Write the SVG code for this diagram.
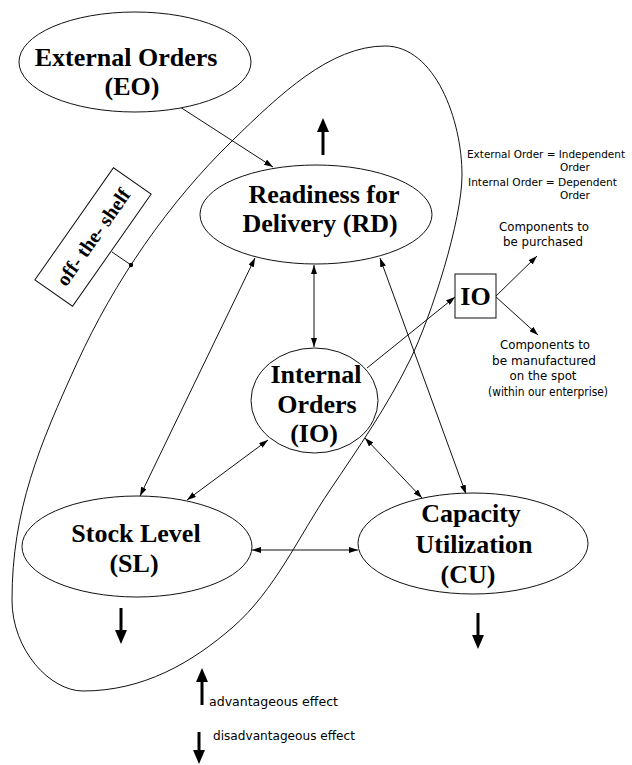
<svg xmlns="http://www.w3.org/2000/svg" width="632" height="765" viewBox="0 0 632 765">
<style>
.bg{fill:#fff}
.node ellipse{fill:#fff;stroke:#111;stroke-width:1}
.lbl{font-family:"Liberation Serif","Times New Roman",serif;font-weight:bold;font-size:26px;fill:#000;text-anchor:middle}
.note{font-family:"DejaVu Sans","Liberation Sans",sans-serif;fill:#000}
.conn line{stroke:#111;stroke-width:1;fill:none}
.thick{stroke:#000;stroke-width:3}
</style>
<defs>
<marker id="ah" viewBox="0 0 9 6" refX="9" refY="3" markerWidth="9" markerHeight="6" markerUnits="userSpaceOnUse" orient="auto-start-reverse">
<path d="M0,0 L9,3 L0,6 z" fill="#000"/>
</marker>
</defs>
<rect class="bg" x="0" y="0" width="632" height="765"/>

<g class="conn" id="connectors">
<line x1="180" y1="107" x2="273" y2="167" marker-end="url(#ah)"/>
<line x1="314" y1="265" x2="314" y2="347" marker-start="url(#ah)" marker-end="url(#ah)"/>
<line x1="255" y1="258" x2="140" y2="496" marker-start="url(#ah)" marker-end="url(#ah)"/>
<line x1="380" y1="258" x2="466" y2="494" marker-start="url(#ah)" marker-end="url(#ah)"/>
<line x1="268" y1="440" x2="187" y2="500" marker-start="url(#ah)" marker-end="url(#ah)"/>
<line x1="365" y1="438" x2="422" y2="498" marker-start="url(#ah)" marker-end="url(#ah)"/>
<line x1="252" y1="550" x2="358" y2="550" marker-start="url(#ah)" marker-end="url(#ah)"/>
<line x1="367" y1="368" x2="455" y2="297" marker-end="url(#ah)"/>
<line x1="496" y1="296" x2="537" y2="256" marker-end="url(#ah)"/>
<line x1="496" y1="297" x2="538" y2="335" marker-end="url(#ah)"/>
</g>

<g class="node" id="EO">
<ellipse cx="135" cy="62" rx="116" ry="50"/>
<text class="lbl" x="126" y="66">External Orders</text>
<text class="lbl" x="132" y="95">(EO)</text>
</g>

<g class="node" id="RD">
<ellipse cx="316" cy="214.5" rx="116" ry="49.5"/>
<text class="lbl" x="324" y="203">Readiness for</text>
<text class="lbl" x="320" y="232">Delivery (RD)</text>
</g>

<g class="node" id="IO">
<ellipse cx="314.5" cy="400.5" rx="63.5" ry="52.5"/>
<text class="lbl" x="316" y="383">Internal</text>
<text class="lbl" x="317" y="413">Orders</text>
<text class="lbl" x="314" y="442">(IO)</text>
</g>

<g class="node" id="SL">
<ellipse cx="137" cy="546.5" rx="115" ry="50.5"/>
<text class="lbl" x="136" y="542">Stock Level</text>
<text class="lbl" x="134" y="572">(SL)</text>
</g>

<g class="node" id="CU">
<ellipse cx="473" cy="543.5" rx="115" ry="50.5"/>
<text class="lbl" x="471" y="522">Capacity</text>
<text class="lbl" x="474" y="553">Utilization</text>
<text class="lbl" x="468" y="583">(CU)</text>
</g>

<g id="offshelf-boundary">
<path d="M385,46 C435,46 462,120 462,175 C462,220 431.9,315 410,360 C388.1,405 358,448.6 330,490 C299.2,535.6 274.5,590.9 233,627 C191.5,663.1 143,691 83,691 C50,691 12,650 12,600 C12,510 39.6,444.9 77,363 C114.4,281.1 168.5,202.7 233,140 C279.6,94.7 330,46 385,46 Z" fill="none" stroke="#111" stroke-width="1"/>
</g>

<g id="offshelf-label">
<g transform="translate(93,237) rotate(-55)">
<rect x="-68.5" y="-23" width="137" height="46" fill="#fff" stroke="#111" stroke-width="1"/>
<text class="lbl" x="0" y="7" style="font-size:20px">off- the- shelf</text>
</g>
<line x1="112" y1="252" x2="131" y2="265" stroke="#111" stroke-width="1"/>
<circle cx="131" cy="265" r="2.2" fill="#000"/>
</g>

<g id="IO-box">
<rect x="455" y="274" width="41" height="44" fill="#fff" stroke="#111" stroke-width="1"/>
<text class="lbl" x="475.5" y="305">IO</text>
</g>

<g id="effects">
<line class="thick" x1="323" y1="130" x2="323" y2="155"/>
<polygon points="323,118 317,132 329,132" fill="#000"/>
<line class="thick" x1="121" y1="608" x2="121" y2="632"/>
<polygon points="121,644 115,630 127,630" fill="#000"/>
<line class="thick" x1="478" y1="613" x2="478" y2="637"/>
<polygon points="478,649 472,635 484,635" fill="#000"/>
</g>

<g id="notes">
<text class="note" x="467" y="158" font-size="10.4" textLength="158" lengthAdjust="spacingAndGlyphs">External Order = Independent</text>
<text class="note" x="560" y="171" font-size="10.5">Order</text>
<text class="note" x="468" y="186" font-size="10.5" textLength="149" lengthAdjust="spacingAndGlyphs">Internal Order = Dependent</text>
<text class="note" x="560" y="199" font-size="10.5">Order</text>
<text class="note" x="544" y="231" font-size="11.5" text-anchor="middle" textLength="90" lengthAdjust="spacingAndGlyphs">Components to</text>
<text class="note" x="543" y="246" font-size="11.5" text-anchor="middle" textLength="80" lengthAdjust="spacingAndGlyphs">be purchased</text>
<text class="note" x="545" y="349" font-size="11.5" text-anchor="middle" textLength="90" lengthAdjust="spacingAndGlyphs">Components to</text>
<text class="note" x="544" y="365" font-size="11.5" text-anchor="middle" textLength="104" lengthAdjust="spacingAndGlyphs">be manufactured</text>
<text class="note" x="543" y="380" font-size="11.5" text-anchor="middle" textLength="67" lengthAdjust="spacingAndGlyphs">on the spot</text>
<text class="note" x="548" y="396" font-size="11.5" text-anchor="middle" textLength="120" lengthAdjust="spacingAndGlyphs">(within our enterprise)</text>
</g>

<g id="legend">
<line class="thick" x1="202" y1="680" x2="202" y2="705"/>
<polygon points="202,668 196,682 208,682" fill="#000"/>
<text class="note" x="209" y="706" font-size="12" textLength="129" lengthAdjust="spacingAndGlyphs">advantageous effect</text>
<line class="thick" x1="199" y1="732" x2="199" y2="752"/>
<polygon points="199,764 193,750 205,750" fill="#000"/>
<text class="note" x="213" y="740" font-size="12" textLength="142" lengthAdjust="spacingAndGlyphs">disadvantageous effect</text>
</g>
</svg>
